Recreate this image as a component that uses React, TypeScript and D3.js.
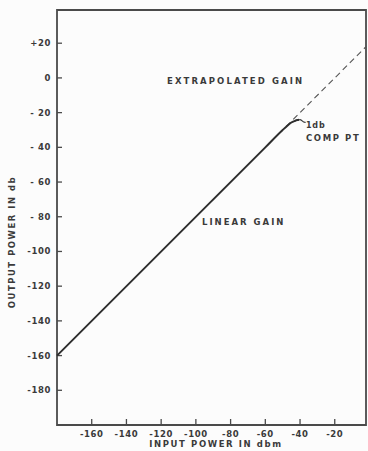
import React from "react";
import * as d3 from "d3";

const W = 368;
const H = 451;

const xTicks = [-160, -140, -120, -100, -80, -60, -40, -20];
const yTicks = [20, 0, -20, -40, -60, -80, -100, -120, -140, -160, -180];

// solid measured curve: linear gain then compression
const curveIn = [-180, -60, -50, -47, -45, -43, -41.5, -40.5];
const curveOut = [-160, -40, -30, -27.3, -25.7, -24.8, -24.3, -24.1];

// dashed extrapolated gain
const extraIn = [-48, -2];
const extraOut = [-28, 18];

function yFmt(v: number) {
  if (v > 0) return "+" + v;
  if (v === 0) return "0";
  const a = Math.abs(v);
  return a < 100 ? "- " + a : "-" + a;
}

export default function App() {
  const x = d3.scaleLinear().domain([-180, -2]).range([57, 366]);
  const y = d3.scaleLinear().domain([-200, 40]).range([425, 8.5]);
  const left = x(-180);
  const right = x(-2);
  const top = 10;
  const bottom = y(-200);

  const line = d3
    .line<number>()
    .x((d, i) => x(curveIn[i]))
    .y((d, i) => y(curveOut[i]))
    .curve(d3.curveMonotoneX);
  const dash = d3
    .line<number>()
    .x((d, i) => x(extraIn[i]))
    .y((d, i) => y(extraOut[i]));

  const txt = {
    fontFamily: "'DejaVu Sans', sans-serif",
    fontWeight: 700,
    fill: "#3a3a3a",
  } as const;

  const ex = x(-40.5);
  const ey = y(-24.1);

  return (
    <svg
      width={W}
      height={H}
      style={{ position: "absolute", left: 0, top: 0, background: "#fcfcfc" }}
    >
      <path
        d={`M${left},${top}H${right}V${bottom}H${left}Z`}
        fill="none"
        stroke="#4a4a4a"
        strokeWidth={1.8}
      />
      {yTicks.map((t) => (
        <g key={"y" + t}>
          <line x1={left} x2={left + 5} y1={y(t)} y2={y(t)} stroke="#4a4a4a" strokeWidth={1.3} />
          <text
            x={left - 6}
            y={y(t)}
            dy="0.35em"
            textAnchor="end"
            fontSize={8.5}
            letterSpacing={0.6}
            {...txt}
          >
            {yFmt(t)}
          </text>
        </g>
      ))}
      {xTicks.map((t) => (
        <g key={"x" + t}>
          <line x1={x(t)} x2={x(t)} y1={bottom} y2={bottom - 6} stroke="#4a4a4a" strokeWidth={1.3} />
          <text
            x={x(t)}
            y={bottom + 12}
            textAnchor="middle"
            fontSize={8.5}
            letterSpacing={0.6}
            {...txt}
          >
            {"-" + Math.abs(t)}
          </text>
        </g>
      ))}
      <path d={dash(extraIn) || ""} fill="none" stroke="#555" strokeWidth={1.1} strokeDasharray="6,4" />
      <path d={line(curveIn) || ""} fill="none" stroke="#2e2e2e" strokeWidth={2} />
      <path
        d={`M${ex},${ey} C${ex + 3},${ey - 0.5} ${ex + 3},${ey + 3} ${ex + 6.5},${ey + 2.5}`}
        fill="none"
        stroke="#3a3a3a"
        strokeWidth={1.2}
      />
      <text x={167} y={84} fontSize={8.5} letterSpacing={2.1} {...txt}>
        EXTRAPOLATED GAIN
      </text>
      <text x={202} y={225} fontSize={8.5} letterSpacing={2} {...txt}>
        LINEAR GAIN
      </text>
      <text x={306} y={128} fontSize={8} letterSpacing={0.8} {...txt}>
        1db
      </text>
      <text x={306} y={140.5} fontSize={8.5} letterSpacing={1.6} {...txt}>
        COMP PT
      </text>
      <text
        transform={`translate(15,242) rotate(-90)`}
        textAnchor="middle"
        fontSize={8.5}
        letterSpacing={1.5}
        {...txt}
      >
        OUTPUT POWER IN db
      </text>
      <text x={216} y={447} textAnchor="middle" fontSize={8.5} letterSpacing={1.6} {...txt}>
        INPUT POWER IN dbm
      </text>
    </svg>
  );
}
